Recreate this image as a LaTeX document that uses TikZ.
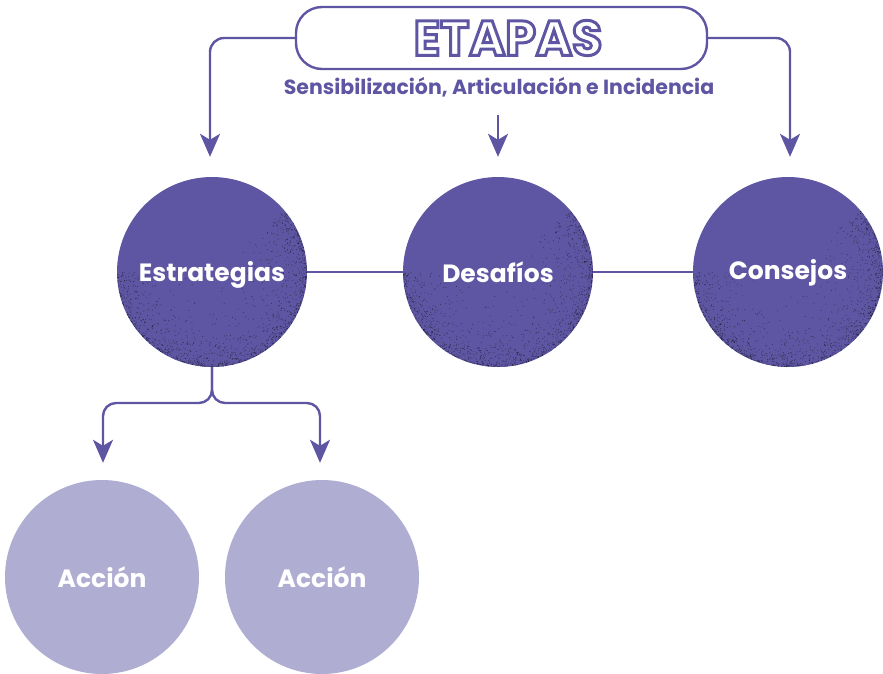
\documentclass[tikz,border=0pt]{standalone}
\usepackage{fontspec}
\setmainfont{Poppins}
\usetikzlibrary{arrows.meta,calc}
\definecolor{pur}{HTML}{5E56A2}
\definecolor{lpur}{HTML}{B0ADD3}
\newcommand\myoutline[1]{{\color{white}\special{pdf:literal direct 2 Tr 3 w 0.369 0.337 0.635 RG}#1\special{pdf:literal direct 0 Tr}}}
\newcommand\mygrain[3]{%
  \begin{scope}
    \clip (#1) circle (#2);
    \pgfmathsetseed{#3}
    \foreach \i in {1,...,1300}{
      \pgfmathsetmacro\ang{-40+220*rnd}
      \pgfmathsetmacro\rad{#2*(1-0.9*rnd*rnd*rnd)}
      \fill[black, opacity=0.45] ($(#1)+(\ang:\rad)$) circle (0.5pt);
    }
  \end{scope}}
\begin{document}
\begin{tikzpicture}[x=1pt,y=-1pt,
  conn/.style={draw=pur, line width=2.4pt},
  arr/.style={conn, -{Stealth[length=23pt,width=20pt,inset=6pt]}},
  ctext/.style={text=white, font=\bfseries\fontsize{25}{28}\selectfont},
  bigc/.style={circle, fill=pur, minimum size=190pt, inner sep=0pt},
  smallc/.style={circle, fill=lpur, minimum size=194pt, inner sep=0pt, ctext}]
\useasboundingbox (0,0) rectangle (883,673);
% title box
\node[draw=pur, line width=2.4pt, rounded corners=26pt, minimum width=411pt, minimum height=62pt, inner sep=0pt] (box) at (501.5,38) {};
\node[font=\bfseries\fontsize{49}{52}\selectfont, inner sep=0pt] (tit) at (508,38) {\myoutline{ETAPAS}};
\node[text=pur, font=\bfseries\fontsize{20.5}{24}\selectfont, inner sep=0pt] (sub) at (499,87) {Sensibilización, Articulación e Incidencia};
% circles
\node[bigc] (est) at (212,272) {};
\node[bigc] (des) at (498,272) {};
\node[bigc] (con) at (788,272) {};
\mygrain{est}{95}{11}
\mygrain{des}{95}{23}
\mygrain{con}{95}{37}
\node[ctext] (estt) at ($(est)+(0,3)$) {Estrategias};
\node[ctext] (dest) at (des) {Desafíos};
\node[ctext] (cont) at ($(con)+(0,1)$) {Consejos};
\node[smallc] (ac1) at (102,577) {Acción};
\node[smallc] (ac2) at (322,577) {Acción};
% connectors
\coordinate (mtop) at (498,115);
\coordinate (split) at (212,403);
\draw[arr, rounded corners=14pt] (box.west) -| ([xshift=-2pt,yshift=20pt]est.north);
\draw[arr, rounded corners=14pt] (box.east) -| ([xshift=2pt,yshift=20pt]con.north);
\draw[arr] (mtop) -- ([yshift=20pt]des.north);
\draw[conn] (est) -- (des);
\draw[conn] (des) -- (con);
\draw[arr, rounded corners=13pt] (est.south) -- (split) -| ([xshift=1pt,yshift=17pt]ac1.north);
\draw[arr, rounded corners=13pt] (est.south) -- (split) -| ([xshift=-2pt,yshift=17pt]ac2.north);
\end{tikzpicture}
\end{document}
